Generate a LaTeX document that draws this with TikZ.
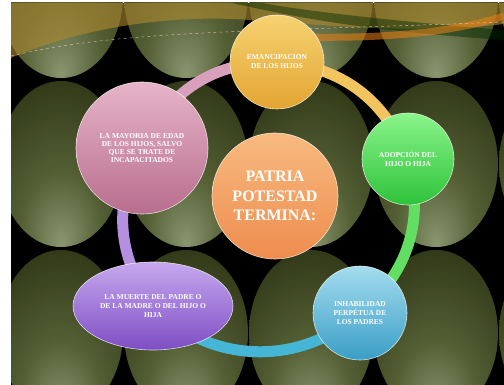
\documentclass[tikz,border=0pt]{standalone}
\usepackage{fontspec}
\setmainfont{Liberation Serif}
\usetikzlibrary{shapes.geometric}
\definecolor{bubL}{HTML}{8A9670}
\definecolor{bubM}{HTML}{545F34}
\definecolor{bubD}{HTML}{2C3314}
\definecolor{goldband}{HTML}{B08A30}
\definecolor{ringpink}{HTML}{D8A0BA}
\definecolor{ringyellow}{HTML}{F2C460}
\definecolor{ringgreen}{HTML}{62DE62}
\definecolor{ringcyan}{HTML}{46B6D6}
\definecolor{ringpurple}{HTML}{B590E0}
\definecolor{pinkT}{HTML}{E6B4C8}
\definecolor{pinkB}{HTML}{B86E8E}
\definecolor{yelT}{HTML}{F6D272}
\definecolor{yelB}{HTML}{E3A532}
\definecolor{grnT}{HTML}{8AF48A}
\definecolor{grnB}{HTML}{2EC23A}
\definecolor{bluT}{HTML}{A4DCEE}
\definecolor{bluB}{HTML}{3A9EC6}
\definecolor{purT}{HTML}{C6A8EE}
\definecolor{purB}{HTML}{7E4EC4}
\definecolor{oraT}{HTML}{F8BA80}
\definecolor{oraB}{HTML}{EE8C4E}
\pgfdeclareradialshading{bubble}{\pgfpoint{0bp}{-24bp}}{color(0bp)=(bubL); color(16bp)=(bubM); color(40bp)=(bubD); color(70bp)=(bubD)}
\pgfdeclarelayer{back}
\pgfdeclarelayer{ringlayer}
\pgfsetlayers{back,ringlayer,main}
\tikzset{
  ball/.style={circle, inner sep=0pt, align=center, text=white, draw=white, draw opacity=.75, line width=.6pt,
    font=\fontsize{7.5}{9}\selectfont\bfseries},
  ring/.style={line width=11pt, line cap=round},
  bub/.style={shading=bubble}
}
\begin{document}
\begin{tikzpicture}[x=1pt,y=-1pt]
\useasboundingbox (0,0) rectangle (504,385);
\begin{pgfonlayer}{back}
\fill[white] (0,0) rectangle (504,385);
\begin{scope}
\clip (11,3) rectangle (504,385);
\fill[black] (11,3) rectangle (504,385);
\foreach \cx in {-64,61,186,311,436,561}{
  \foreach \cy in {-5,164,333}{
    \shade[bub] (\cx,\cy) ellipse [x radius=62, y radius=83];
  }
}
\fill[goldband, opacity=.6] (11,3) -- (504,3) -- (504,24) .. controls (420,34) and (330,26) .. (250,20) .. controls (170,14) and (80,28) .. (11,58) -- cycle;
\fill[black!60!green!40!black, opacity=.45] (232,3) .. controls (300,18) and (360,30) .. (504,40) -- (504,30) .. controls (380,20) and (300,10) .. (262,3) -- cycle;
\draw[orange!70!brown, line width=7pt, opacity=.55] (300,37) .. controls (400,39) and (460,30) .. (504,16);
\draw[pink!70!white, dashed, line width=.5pt, opacity=.7] (11,56) .. controls (120,30) and (250,32) .. (504,22);
\end{scope}
\end{pgfonlayer}

\node[ball, minimum size=94pt, top color=yelT, bottom color=yelB] (eman) at (277,62) {EMANCIPACION\\DE LOS HIJOS};
\node[ball, minimum size=92pt, top color=grnT, bottom color=grnB] (adop) at (408,159) {ADOPCIÓN DEL\\HIJO O HIJA};
\node[ball, minimum size=94pt, top color=bluT, bottom color=bluB] (inha) at (360,313) {INHABILIDAD\\PERPÉTUA DE\\LOS PADRES};
\node[ball, ellipse, minimum width=160pt, minimum height=88pt, top color=purT, bottom color=purB] (muer) at (153,306) {LA MUERTE DEL PADRE O\\DE LA MADRE O DEL HIJO O\\HIJA};
\node[ball, minimum size=132pt, font=\fontsize{7.5}{8}\selectfont\bfseries, top color=pinkT, bottom color=pinkB] (mayo) at (142,148) {LA MAYORIA DE EDAD\\DE LOS HIJOS, SALVO\\QUE SE TRATE DE\\INCAPACITADOS};
\node[ball, minimum size=126pt, font=\fontsize{16}{19.5}\selectfont\bfseries, top color=oraT, bottom color=oraB] (cent) at (275,196) {PATRIA\\POTESTAD\\TERMINA:};

\begin{pgfonlayer}{ringlayer}
\draw[ring, ringpink] (mayo.center) to[bend left=33] (eman.center);
\draw[ring, ringyellow] (eman.center) to[bend left=33] (adop.center);
\draw[ring, ringgreen] (adop.center) to[bend left=33] (inha.center);
\draw[ring, ringcyan] (inha.center) to[bend left=44] (muer.center);
\draw[ring, ringpurple] (muer.center) to[bend left=32] (mayo.center);
\end{pgfonlayer}
\end{tikzpicture}
\end{document}
